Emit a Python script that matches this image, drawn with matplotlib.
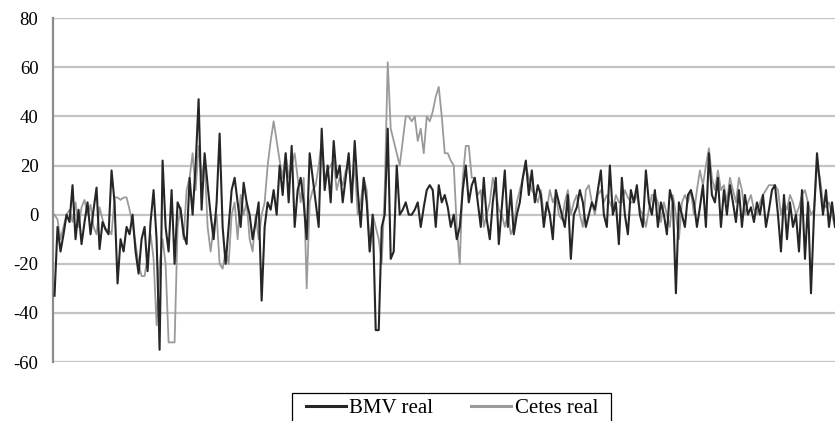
import numpy as np
import matplotlib.pyplot as plt
from matplotlib.patches import Rectangle
from matplotlib.transforms import IdentityTransform

# ---- values, in order (monthly, left to right) ----
bmv_real = [
    -33, -5, -15, -8, 0, -3, 12, -10, 2, -12, -3, 5, -8, 2, 11, -14, -3, -6, -8, 18,
    5, -28, -10, -15, -5, -8, 0, -15, -24, -10, -5, -23, -3, 10, -10, -55, 22, -5, -15, 10,
    -20, 5, 2, -8, -12, 15, 0, 20, 47, 2, 25, 12, 0, -10, 5, 33, -5, -20, -5, 10,
    15, 5, -5, 13, 5, 0, -10, -3, 5, -35, -5, 5, 2, 10, 0, 20, 8, 25, 5, 28,
    -5, 10, 15, 5, -10, 25, 15, 5, -5, 35, 10, 20, 5, 30, 15, 20, 5, 15, 25, 5,
    30, 10, -5, 15, 5, -15, 0, -47, -47, -5, 0, 35, -18, -15, 20, 0, 2, 5, 0, 0,
    2, 5, -5, 3, 10, 12, 10, -5, 12, 5, 8, 3, -5, 0, -10, -5, 10, 20, 5, 12,
    15, 5, -5, 15, -2, -10, 5, 15, -12, 3, 18, -5, 10, -8, 0, 5, 15, 22, 8, 18,
    5, 12, 8, -5, 5, 0, -10, 10, 5, 0, -5, 8, -18, 0, 3, 10, 5, -5, 0, 5,
    2, 10, 18, 0, -5, 20, 0, 5, -12, 15, 0, -8, 10, 5, 12, 0, -5, 18, 5, 0,
    10, -5, 5, 0, -8, 10, 5, -32, 5, 0, -5, 8, 10, 5, -5, 3, 12, -5, 25, 8,
    5, 15, -5, 10, 0, 12, 5, -3, 10, -5, 8, 0, 3, -3, 5, 0, 8, -5, 2, 10,
    12, 0, -15, 8, -10, 5, -5, 0, -15, 10, -18, 5, -32, 0, 25, 12, 0, 10, -5, 5, -5,
]
cetes_real = [
    0, -2, -10, -5, 0, 2, -3, 5, -5, 3, 6, 0, 4, -5, -8, 3, -2, -6, -6, -8,
    7, 7, 6, 7, 7, 2, -4, -12, -20, -25, -25, -17, -8, -18, -45, -20, -10, -20, -52, -52,
    -52, -5, 3, -10, 10, 15, 25, 10, 28, 15, 22, -5, -15, -5, 0, -20, -22, -15, -20, 0,
    5, -10, 8, 0, 5, -10, -15, 0, -10, 0, 5, 20, 30, 38, 30, 22, 15, 25, 15, 20,
    25, 15, 5, 15, -30, 5, 10, 12, 20, 30, 15, 18, 20, 22, 10, 15, 12, 18, 20, 10,
    20, 0, 5, 15, 10, -15, 0, -5, -10, -20, 10, 62, 35, 30, 25, 20, 30, 40, 40, 38,
    40, 30, 35, 25, 40, 38, 42, 48, 52, 40, 25, 25, 22, 20, -5, -20, 15, 28, 28, 15,
    15, 8, 10, -5, 0, 5, 15, 10, 2, 0, -5, 0, -8, -5, 5, 10, 15, 20, 15, 10,
    8, 5, 10, 0, 2, 10, 5, 8, 0, -2, 5, 10, 0, 5, 8, 0, -5, 10, 12, 5,
    0, 8, 10, 5, 8, 5, 2, 8, 5, 5, 10, 7, 5, 5, 8, 2, 0, -5, 2, 8,
    8, 5, -3, 5, 0, -5, 8, 0, -10, 5, 8, 5, 10, 0, 10, 18, 12, 20, 27, 15,
    10, 18, 10, 12, 5, 15, 10, 5, 15, 10, 0, 5, 8, 2, 0, 5, 8, 10, 12, 12,
    12, 10, 0, 5, 2, 8, 5, 0, 3, 8, 10, 5, 0, 2, 20, 15, 5, 3, 5, 0, -5,
]
y_ticks = [-60, -40, -20, 0, 20, 40, 60, 80]

t = np.arange(len(bmv_real))

plt.rcParams['font.family'] = ['Liberation Serif', 'DejaVu Serif']
plt.rcParams['axes.unicode_minus'] = False

fig = plt.figure(figsize=(8.35, 4.21), dpi=100)
ax = fig.add_axes([0.0635, 0.140, 0.9365, 0.817])

for yv in y_ticks:
    ax.axhline(yv, color='#c4c4c4', linewidth=1.6, zorder=0)

ax.plot(t, cetes_real, color='#9a9a9a', linewidth=1.3, label='Cetes real', zorder=2)
ax.plot(t, bmv_real, color='#262626', linewidth=1.5, label='BMV real', zorder=3)

ax.set_ylim(-60, 80)
ax.set_xlim(-0.5, len(t) - 1)
ax.set_yticks(y_ticks)
ax.set_xticks([])
ax.tick_params(axis='y', length=0, pad=10.5, labelsize=13.5)

for side in ['top', 'right', 'bottom']:
    ax.spines[side].set_visible(False)
ax.spines['left'].set_color('#8c8c8c')
ax.spines['left'].set_linewidth(1.6)

# legend without its own frame; box drawn open at the bottom like the reference
handles, labels = ax.get_legend_handles_labels()
leg = fig.legend(handles[::-1], labels[::-1], loc='upper center',
                 bbox_to_anchor=(0.541, 0.066), ncol=2, fontsize=15,
                 frameon=False, handlelength=1.95, borderaxespad=0,
                 handletextpad=0.15, columnspacing=1.8, borderpad=0.25)
for line in leg.get_lines():
    line.set_linewidth(2.2)

fig.canvas.draw()
bb = leg.get_window_extent()
frame = Rectangle((bb.x0 - 8, bb.y0 - 30), bb.width + 16, bb.height + 30,
                  transform=IdentityTransform(), fill=False,
                  edgecolor='black', linewidth=0.9)
fig.patches.append(frame)

plt.savefig('out.png', dpi=100, facecolor='white')
plt.close()
